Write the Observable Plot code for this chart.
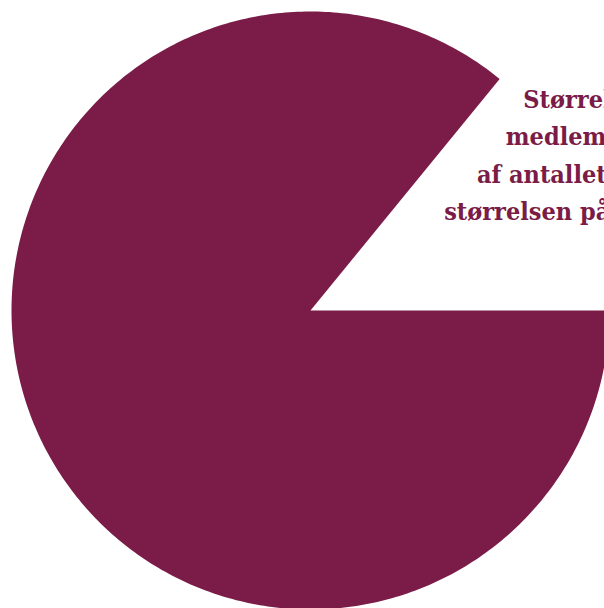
<!DOCTYPE html>
<html><head><meta charset="utf-8">
<script src="https://cdn.jsdelivr.net/npm/d3@7"></script>
<script src="https://cdn.jsdelivr.net/npm/@observablehq/plot@0.6"></script>
<style>body{margin:0;background:#fff}</style>
</head><body><div id="chart"></div>
<script>
const categories = ["Øvrige", "Fremhævet"];
const values = [85.9, 14.1];
const colors = ["#7a1c47", "#ffffff"];
const labelText = "Størrelsen af\nmedlemmerne\naf antallet af det\nstørrelsen på deres";

const W = 604, H = 608, cx = 310, cy = 310, R = 299;
const total = d3.sum(values);
const smallFrac = values[1] / total;
const pts = [];
const a0 = smallFrac * 2 * Math.PI, a1 = 2 * Math.PI;
pts.push({x: 0, y: 0});
const n = 400;
for (let i = 0; i <= n; i++) {
  const a = a0 + (a1 - a0) * i / n;
  pts.push({x: Math.cos(a), y: Math.sin(a)});
}
pts.push({x: 0, y: 0});
const label = [{x: 1.259, y: 0.53, text: labelText}];

const chart = Plot.plot({
  width: W, height: H,
  margin: 0,
  x: {domain: [-cx / R, (W - cx) / R], axis: null},
  y: {domain: [-(H - cy) / R, cy / R], axis: null},
  marks: [
    Plot.line(pts, {x: "x", y: "y", fill: colors[0], stroke: "none", curve: "linear"}),
    Plot.text(label, {x: "x", y: "y", text: "text", fill: colors[0], fontSize: 25,
      fontFamily: "DejaVu Serif Condensed", fontWeight: "bold", lineHeight: 1.49, textAnchor: "end"})
  ]
});
document.getElementById("chart").append(chart);
</script></body></html>
